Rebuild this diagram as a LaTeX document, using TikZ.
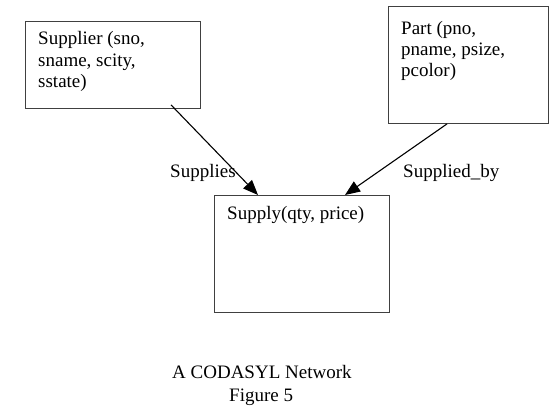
\documentclass[tikz,border=0pt]{standalone}
\usepackage{fontspec}
\setmainfont{Liberation Serif}
\usetikzlibrary{arrows.meta,calc}
\begin{document}
\begin{tikzpicture}[x=1pt,y=-1pt,
  box/.style={draw=black!75, line width=0.9pt, inner sep=0pt, anchor=north west},
  lbl/.style={anchor=base west, inner sep=0pt, font=\fontsize{19}{21.5}\selectfont},
  conn/.style={line width=1.1pt, -{Triangle[length=15pt,width=12pt]}}]
\useasboundingbox (0,0) rectangle (556,406);
% boxes
\node[box, minimum width=175pt, minimum height=87pt] (supplier) at (25,21) {};
\node[box, minimum width=160pt, minimum height=117pt] (part) at (388,6) {};
\node[box, minimum width=175pt, minimum height=117pt] (supply) at (214,195) {};
% box texts
\node[lbl] (t1a) at (38,45) {Supplier (sno,};
\node[lbl] (t1b) at (38,66.5) {sname, scity,};
\node[lbl] (t1c) at (38,88) {sstate)};
\node[lbl] (t2a) at (401,35) {Part (pno,};
\node[lbl] (t2b) at (401,56) {pname, psize,};
\node[lbl] (t2c) at (401,77) {pcolor)};
\node[lbl] (t3) at (227,219) {Supply(qty, price)};
% connector labels
\node[lbl] (l1) at (170,178) {Supplies};
\node[lbl] (l2) at (403,178) {Supplied\_by};
% caption
\node[lbl] (c1) at (172,378) {A CODASYL Network};
\node[lbl] (c2) at (229,401) {Figure 5};
% connectors
\coordinate (s1) at ($(supplier.south west)+(146,-4)$);
\coordinate (e1) at ($(supply.north west)+(44,0)$);
\coordinate (s2) at ($(part.south west)+(59,0)$);
\coordinate (e2) at ($(supply.north west)+(131,0)$);
\draw[conn] (s1) -- (e1);
\draw[conn] (s2) -- (e2);
\end{tikzpicture}
\end{document}
